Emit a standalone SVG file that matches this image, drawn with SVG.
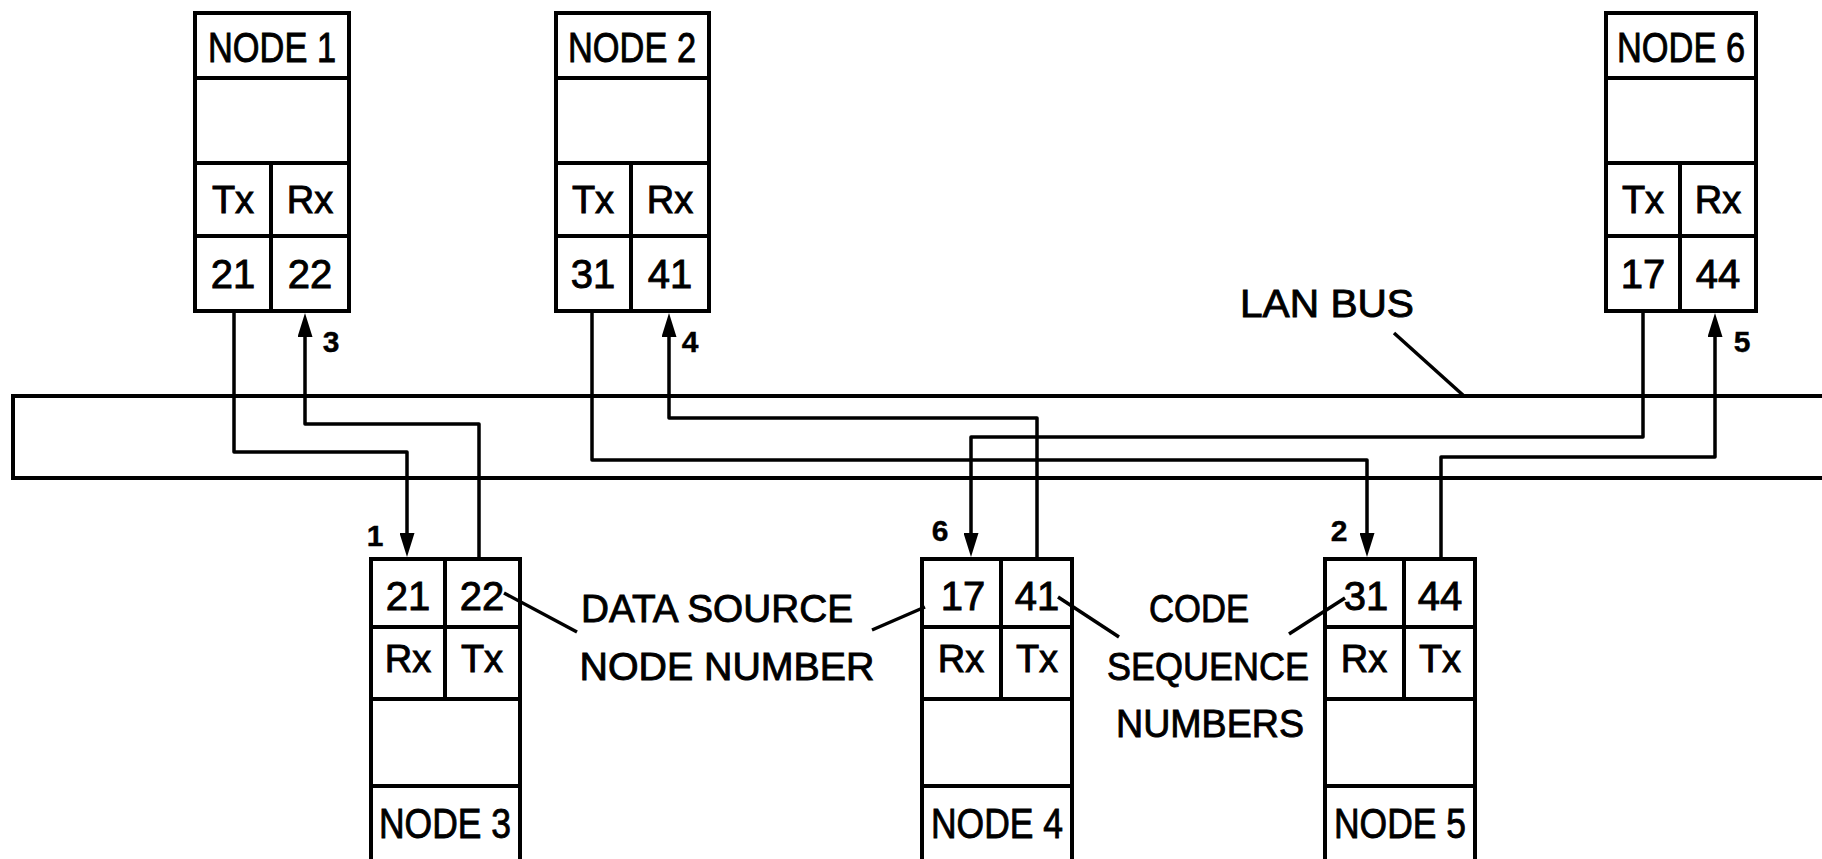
<svg xmlns="http://www.w3.org/2000/svg" width="1822" height="859" viewBox="0 0 1822 859">
<style>
.box{fill:#fff;stroke:#000;stroke-width:4}
.ln{fill:none;stroke:#000;stroke-width:4}
.wire{fill:none;stroke:#000;stroke-width:3.5;stroke-linejoin:round}
.lead{fill:none;stroke:#000;stroke-width:3.5}
text{font-family:"Liberation Sans","DejaVu Sans",sans-serif;fill:#000;stroke:#000;stroke-width:0.9;text-anchor:middle}
.t{font-size:42px}
.c{font-size:38px}
.n{font-size:40px}
.s{font-size:30px;font-weight:bold;stroke-width:0.4}
.lbl{font-size:39px}
</style>
<defs>
<marker id="arr" viewBox="0 0 24 15" refX="13" refY="7.5" markerWidth="24" markerHeight="15" orient="auto" markerUnits="userSpaceOnUse"><path d="M0,0 L24,7.5 L0,15 z" fill="#000"/></marker>
</defs>
<rect width="1822" height="859" fill="#fff"/>

<g id="bus">
<path class="ln" d="M1824,396 H13 V478 H1824"/>
</g>

<g id="node1">
<rect class="box" x="195" y="13" width="154" height="298"/>
<path class="ln" d="M195,78 H349 M195,163 H349 M195,236 H349 M271,163 V311"/>
<text class="t" x="272" y="62" textLength="128" lengthAdjust="spacingAndGlyphs">NODE 1</text>
<text class="c" x="233" y="213">Tx</text>
<text class="c" x="310" y="213">Rx</text>
<text class="n" x="233" y="288">21</text>
<text class="n" x="310" y="288">22</text>
</g>

<g id="node2">
<rect class="box" x="556" y="13" width="153" height="298"/>
<path class="ln" d="M556,78 H709 M556,163 H709 M556,236 H709 M631,163 V311"/>
<text class="t" x="632" y="62" textLength="128" lengthAdjust="spacingAndGlyphs">NODE 2</text>
<text class="c" x="593" y="213">Tx</text>
<text class="c" x="670" y="213">Rx</text>
<text class="n" x="593" y="288">31</text>
<text class="n" x="670" y="288">41</text>
</g>

<g id="node6">
<rect class="box" x="1606" y="13" width="150" height="298"/>
<path class="ln" d="M1606,78 H1756 M1606,163 H1756 M1606,236 H1756 M1680,163 V311"/>
<text class="t" x="1681" y="62" textLength="128" lengthAdjust="spacingAndGlyphs">NODE 6</text>
<text class="c" x="1643" y="213">Tx</text>
<text class="c" x="1718" y="213">Rx</text>
<text class="n" x="1643" y="288">17</text>
<text class="n" x="1718" y="288">44</text>
</g>

<g id="node3">
<rect class="box" x="371" y="559" width="149" height="310"/>
<path class="ln" d="M371,627 H520 M371,699 H520 M371,786 H520 M445,559 V699"/>
<text class="n" x="408" y="610">21</text>
<text class="n" x="482" y="610">22</text>
<text class="c" x="408" y="672">Rx</text>
<text class="c" x="482" y="672">Tx</text>
<text class="t" x="445" y="838" textLength="132" lengthAdjust="spacingAndGlyphs">NODE 3</text>
</g>

<g id="node4">
<rect class="box" x="922" y="559" width="150" height="310"/>
<path class="ln" d="M922,627 H1072 M922,699 H1072 M922,786 H1072 M1001,559 V699"/>
<text class="n" x="963" y="610">17</text>
<text class="n" x="1037" y="610">41</text>
<text class="c" x="961" y="672">Rx</text>
<text class="c" x="1037" y="672">Tx</text>
<text class="t" x="997" y="838" textLength="132" lengthAdjust="spacingAndGlyphs">NODE 4</text>
</g>

<g id="node5">
<rect class="box" x="1325" y="559" width="150" height="310"/>
<path class="ln" d="M1325,627 H1475 M1325,699 H1475 M1325,786 H1475 M1404,559 V699"/>
<text class="n" x="1366" y="610">31</text>
<text class="n" x="1440" y="610">44</text>
<text class="c" x="1364" y="672">Rx</text>
<text class="c" x="1440" y="672">Tx</text>
<text class="t" x="1400" y="838" textLength="132" lengthAdjust="spacingAndGlyphs">NODE 5</text>
</g>

<g id="connectors">
<path class="wire" d="M234,311 V452 H407 V546" marker-end="url(#arr)"/>
<path class="wire" d="M479,559 V424 H305 V324" marker-end="url(#arr)"/>
<path class="wire" d="M592,311 V460 H1367 V546" marker-end="url(#arr)"/>
<path class="wire" d="M1037,559 V418 H669 V324" marker-end="url(#arr)"/>
<path class="wire" d="M1643,311 V437 H971 V546" marker-end="url(#arr)"/>
<path class="wire" d="M1441,559 V457 H1715 V324" marker-end="url(#arr)"/>
<path class="lead" d="M1394,333 L1464,396"/>
<path class="lead" d="M504,593 L577,632"/>
<path class="lead" d="M872,630 L925,607"/>
<path class="lead" d="M1058,597 L1119,637"/>
<path class="lead" d="M1289,634 L1345,598"/>
</g>

<g id="labels">
<text class="s" x="375" y="546">1</text>
<text class="s" x="1339" y="541">2</text>
<text class="s" x="331" y="352">3</text>
<text class="s" x="690" y="352">4</text>
<text class="s" x="1742" y="352">5</text>
<text class="s" x="940" y="541">6</text>
<text class="lbl" x="1327" y="317" textLength="174" lengthAdjust="spacingAndGlyphs">LAN BUS</text>
<text class="lbl" x="717" y="622" textLength="272" lengthAdjust="spacingAndGlyphs">DATA SOURCE</text>
<text class="lbl" x="727" y="680" textLength="295" lengthAdjust="spacingAndGlyphs">NODE NUMBER</text>
<text class="lbl" x="1199" y="622" textLength="100" lengthAdjust="spacingAndGlyphs">CODE</text>
<text class="lbl" x="1208" y="680" textLength="202" lengthAdjust="spacingAndGlyphs">SEQUENCE</text>
<text class="lbl" x="1210" y="737" textLength="188" lengthAdjust="spacingAndGlyphs">NUMBERS</text>
</g>
</svg>
